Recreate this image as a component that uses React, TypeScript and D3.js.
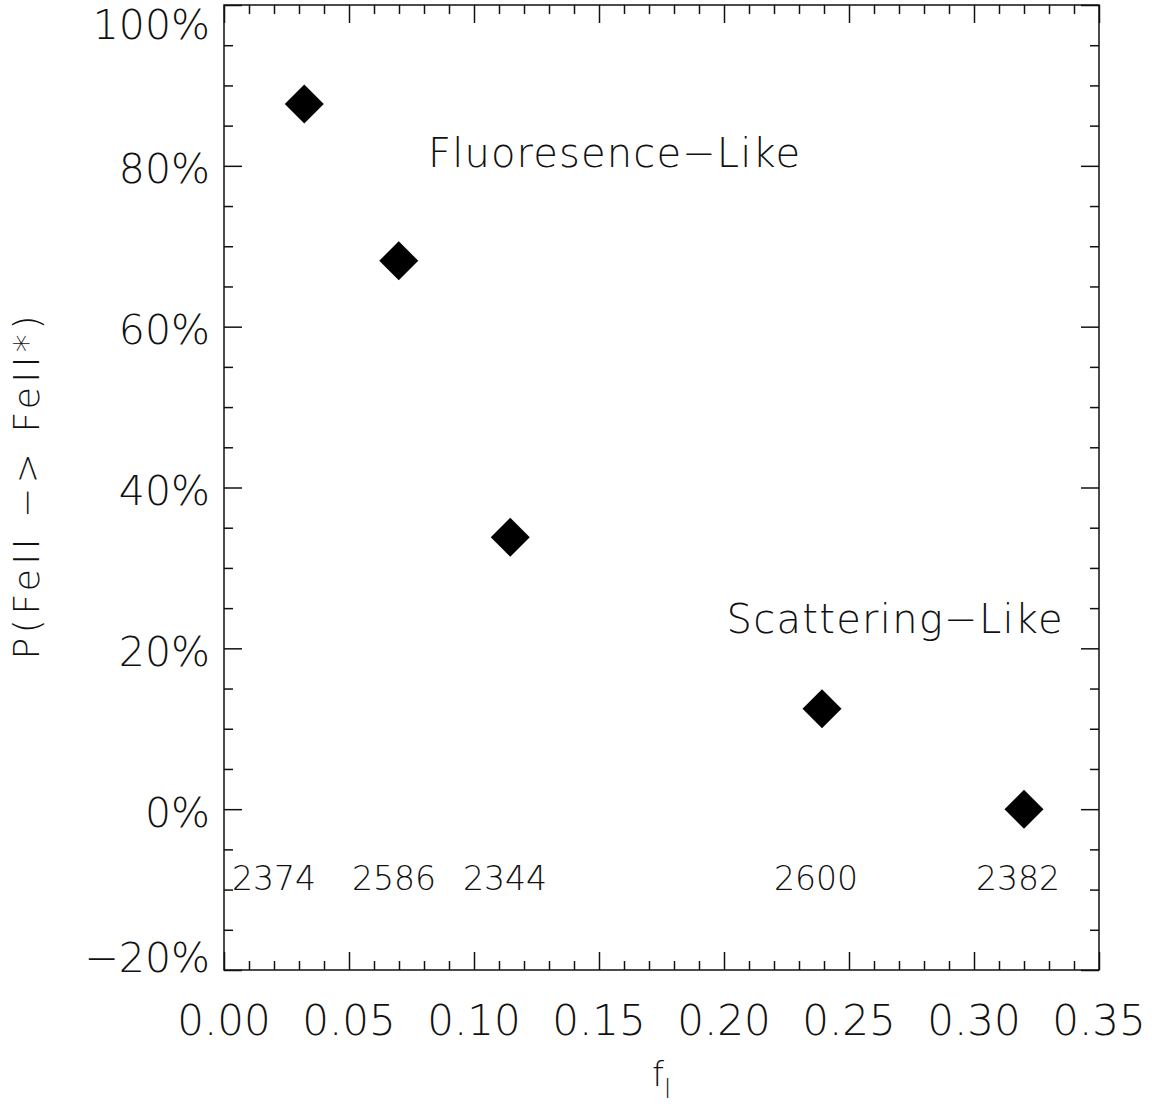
import { useEffect, useRef } from "react";
import * as d3 from "d3";

// f_l (oscillator strength fraction) and fluorescence probability per FeII line
const lines = ["2374", "2586", "2344", "2600", "2382"];
const fValues = [0.0321, 0.0699, 0.1145, 0.2392, 0.32];
const probValues = [87.7, 68.2, 33.8, 12.5, 0.0];
const lineLabelX = [0.02, 0.068, 0.1124, 0.2368, 0.3176];
const lineLabelY = -10;

const xMajorTicks = [0, 0.05, 0.1, 0.15, 0.2, 0.25, 0.3, 0.35];
const yMajorTicks = [-20, 0, 20, 40, 60, 80, 100];

const annotations = [
  { text: "Fluoresence\u2212Like", x: 0.0816, y: 79.8, width: 372 },
  { text: "Scattering\u2212Like", x: 0.201, y: 21.9, width: 336 },
];

const W = 1152;
const H = 1106;
const margin = { top: 5, right: 53, bottom: 136, left: 224 };
const FONT = "'DejaVu Sans ExtraLight', 'DejaVu Sans', sans-serif";
const INK = "#111";

export default function App() {
  const svgRef = useRef<SVGSVGElement>(null);

  useEffect(() => {
    if (!svgRef.current) return;
    const svg = d3.select(svgRef.current);
    svg.selectAll("*").remove();

    const left = margin.left;
    const right = W - margin.right;
    const top = margin.top;
    const bottom = H - margin.bottom;

    const x = d3.scaleLinear().domain([0, 0.35]).range([left, right]);
    const y = d3.scaleLinear().domain([-20, 100]).range([bottom, top]);

    const xMinor = d3.range(0, 0.3501, 0.01).filter(
      (v) => !xMajorTicks.some((m) => Math.abs(m - v) < 1e-6)
    );
    const yMinor = d3.range(-20, 100.01, 5).filter((v) => v % 20 !== 0);

    const styleAxis = (g: d3.Selection<SVGGElement, unknown, null, undefined>) => {
      g.select(".domain").remove();
      g.selectAll("line").attr("stroke", INK).attr("stroke-width", 1.5);
      g.selectAll("text").remove();
    };

    // ticks on all four sides, pointing inwards
    const axes: [any, number, string][] = [
      [d3.axisBottom(x).tickValues(xMajorTicks).tickSize(-18), bottom, "x"],
      [d3.axisBottom(x).tickValues(xMinor).tickSize(-9), bottom, "x"],
      [d3.axisTop(x).tickValues(xMajorTicks).tickSize(-18), top, "x"],
      [d3.axisTop(x).tickValues(xMinor).tickSize(-9), top, "x"],
      [d3.axisLeft(y).tickValues(yMajorTicks).tickSize(-18), left, "y"],
      [d3.axisLeft(y).tickValues(yMinor).tickSize(-9), left, "y"],
      [d3.axisRight(y).tickValues(yMajorTicks).tickSize(-18), right, "y"],
      [d3.axisRight(y).tickValues(yMinor).tickSize(-9), right, "y"],
    ];
    axes.forEach(([axis, pos, dir]) => {
      svg
        .append("g")
        .attr("transform", dir === "x" ? `translate(0,${pos})` : `translate(${pos},0)`)
        .call(axis)
        .call(styleAxis);
    });

    // frame
    svg
      .append("rect")
      .attr("x", left)
      .attr("y", top)
      .attr("width", right - left)
      .attr("height", bottom - top)
      .attr("fill", "none")
      .attr("stroke", INK)
      .attr("stroke-width", 1.5);

    // x tick labels
    svg
      .append("g")
      .selectAll("text")
      .data(xMajorTicks)
      .enter()
      .append("text")
      .attr("x", (d) => x(d))
      .attr("y", bottom + 65)
      .attr("text-anchor", "middle")
      .style("font-family", FONT)
      .style("font-weight", 200)
      .style("font-size", "42px")
      .style("fill", INK)
      .text((d) => d3.format(".2f")(d));

    // y tick labels (kept inside the frame's vertical extent)
    svg
      .append("g")
      .selectAll("text")
      .data(yMajorTicks)
      .enter()
      .append("text")
      .attr("x", left - 14)
      .attr("y", (d) => Math.min(Math.max(y(d) + 17.5, top + 34), bottom + 2))
      .attr("text-anchor", "end")
      .style("font-family", FONT)
      .style("font-weight", 200)
      .style("font-size", "41px")
      .style("fill", INK)
      .text((d) => `${d < 0 ? "\u2212" : ""}${Math.abs(d)}%`);

    // data points (filled diamonds)
    const diamond = d3.symbol().type(d3.symbolSquare).size(760);
    svg
      .append("g")
      .selectAll("path")
      .data(fValues.map((f, i) => ({ f, p: probValues[i] })))
      .enter()
      .append("path")
      .attr("d", diamond)
      .attr("transform", (d) => `translate(${x(d.f)},${y(d.p)}) rotate(45)`)
      .attr("fill", "#000");

    // line wavelengths
    svg
      .append("g")
      .selectAll("text")
      .data(lines)
      .enter()
      .append("text")
      .attr("x", (d, i) => x(lineLabelX[i]))
      .attr("y", y(lineLabelY))
      .attr("text-anchor", "middle")
      .style("font-family", FONT)
      .style("font-weight", 200)
      .style("font-size", "33px")
      .style("fill", INK)
      .text((d) => d);

    // regime annotations
    svg
      .append("g")
      .selectAll("text")
      .data(annotations)
      .enter()
      .append("text")
      .attr("x", (d) => x(d.x))
      .attr("y", (d) => y(d.y))
      .attr("textLength", (d) => d.width)
      .attr("lengthAdjust", "spacing")
      .style("font-family", FONT)
      .style("font-weight", 200)
      .style("font-size", "40px")
      .style("fill", INK)
      .text((d) => d.text);

    // x title: f_l
    const xt = svg
      .append("text")
      .attr("x", (left + right) / 2)
      .attr("y", bottom + 116)
      .attr("text-anchor", "middle")
      .style("font-family", FONT)
      .style("font-weight", 200)
      .style("font-size", "34px")
      .style("fill", INK);
    xt.append("tspan").text("f");
    xt.append("tspan").attr("dy", 12).style("font-size", "26px").text("l");

    // y title
    svg
      .append("text")
      .attr("transform", `translate(39,${(top + bottom) / 2}) rotate(-90)`)
      .attr("text-anchor", "middle")
      .attr("textLength", 344)
      .attr("lengthAdjust", "spacing")
      .style("font-family", FONT)
      .style("font-weight", 200)
      .style("font-size", "36px")
      .style("fill", INK)
      .text("P(FeII \u2212> FeII*)");
  }, []);

  return (
    <svg
      ref={svgRef}
      width={W}
      height={H}
      style={{ position: "absolute", left: 0, top: 0, background: "#fff" }}
    />
  );
}
